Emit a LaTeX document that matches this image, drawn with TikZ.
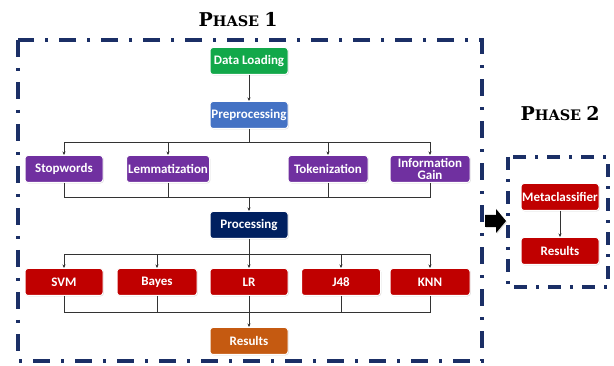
\documentclass[tikz,border=0pt]{standalone}
\usepackage{fontspec}
\setmainfont{Carlito}
\newfontfamily\titlefont{DejaVu Serif}
\usetikzlibrary{arrows.meta, positioning, shadows}
\definecolor{pnavy}{HTML}{1B2F66}
\definecolor{cgreen}{HTML}{12A84A}
\definecolor{cblue}{HTML}{4472C4}
\definecolor{cpurple}{HTML}{7030A0}
\definecolor{cdark}{HTML}{002060}
\definecolor{cred}{HTML}{C00000}
\definecolor{corange}{HTML}{C55A11}
\tikzset{
  stage/.style={draw=white, line width=1pt, rounded corners=3pt, text=white,
                minimum width=78pt, minimum height=27pt, inner sep=1pt,
                font=\fontsize{13}{11.5}\selectfont\bfseries, align=center,
                drop shadow={opacity=0.3, shadow xshift=0.8pt, shadow yshift=-0.8pt}},
  gstage/.style={stage, fill=cgreen},
  bstage/.style={stage, fill=cblue},
  pstage/.style={stage, fill=cpurple},
  nstage/.style={stage, fill=cdark},
  rstage/.style={stage, fill=cred},
  ostage/.style={stage, fill=corange},
  phaseframe/.style={draw=pnavy, line width=4pt, dash pattern=on 17pt off 11pt on 3pt off 11pt},
  phasetitle/.style={font=\titlefont\bfseries, inner sep=0pt},
  link/.style={thin, black!80},
  arr/.style={-{Stealth[length=3.5pt,width=3pt]}, thin, black!80},
}
\newcommand{\phasename}[1]{{\fontsize{19}{19}\selectfont P}{\fontsize{14.5}{14.5}\selectfont HASE}\hspace{5pt}{\fontsize{19}{19}\selectfont #1}}
\begin{document}
\begin{tikzpicture}[x=1pt, y=-1pt]
  \useasboundingbox (0,0) rectangle (614,366);
  % frames
  \draw[phaseframe] (18,40) rectangle (482,361);
  \draw[phaseframe, line width=3.5pt, dash pattern=on 13pt off 9pt on 3pt off 9pt]
    (508,157) rectangle (608,287);
  \node[phasetitle] (t1) at (238,20) {\phasename{1}};
  \node[phasetitle] (t2) at (560,114) {\phasename{2}};

  % phase 1
  \node[gstage] (load) at (249,61) {Data Loading};
  \node[bstage] (pre) at (249,115) {Preprocessing};
  \node[pstage] (stop) at (64,169) {Stopwords};
  \node[pstage, minimum width=83pt] (lem) at (168,169) {Lemmatization};
  \node[pstage, minimum width=80pt] (tok) at (328,169) {Tokenization};
  \node[pstage, minimum width=80pt] (info) at (430,169) {Information\\Gain};
  \node[nstage] (proc) at (249,225) {Processing};
  \node[rstage] (svm) at (64,282) {SVM};
  \node[rstage, minimum width=80pt] (bayes) at (157,282) {Bayes};
  \node[rstage] (lr) at (249,282) {LR};
  \node[rstage, minimum width=79pt] (j48) at (341,282) {J48};
  \node[rstage, minimum width=80pt] (knn) at (430,282) {KNN};
  \node[ostage] (res) at (249,341) {Results};

  \coordinate (busA) at (249,142);
  \coordinate (busB) at (249,197);
  \coordinate (busC) at (249,254);
  \coordinate (busD) at (249,312);

  \draw[arr] (load) -- (pre);
  \draw[link] (pre) -- (busA);
  \foreach \n in {stop, lem, tok, info}
    \draw[arr] (busA) -| (\n.north);
  \foreach \n in {stop, lem, tok, info}
    \draw[link] (\n.south) |- (busB);
  \draw[arr] (busB) -- (proc);
  \draw[link] (proc) -- (busC);
  \foreach \n in {svm, bayes, lr, j48, knn}
    \draw[arr] (busC) -| (\n.north);
  \foreach \n in {svm, bayes, lr, j48, knn}
    \draw[link] (\n.south) |- (busD);
  \draw[arr] (busD) -- (res);

  % phase 2
  \node[rstage] (meta) at (560,197) {Metaclassifier};
  \node[rstage] (res2) at (560,251) {Results};
  \draw[arr] (meta) -- (res2);
  % block arrow between the phases
  \fill[black, drop shadow={opacity=0.25, shadow xshift=1pt, shadow yshift=-1pt}]
    (485,215) -- (496,215) -- (496,209) -- (506,221) -- (496,233) -- (496,227) -- (485,227) -- cycle;
\end{tikzpicture}
\end{document}
